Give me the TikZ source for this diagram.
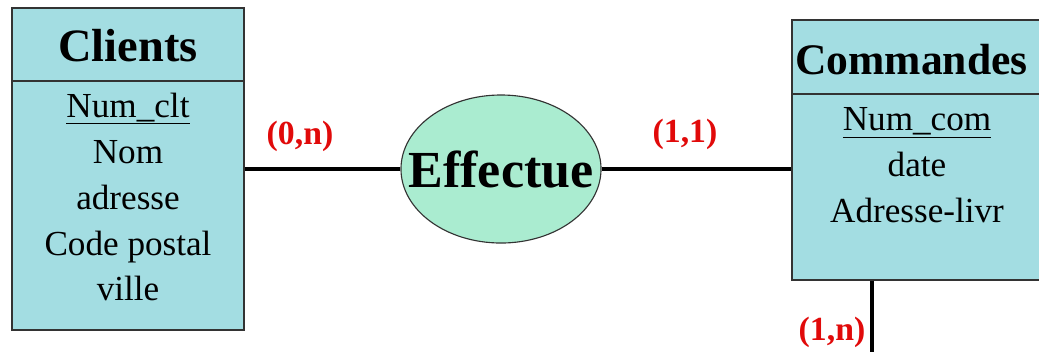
\documentclass[tikz,border=0pt]{standalone}
\usepackage{fontspec}
\setmainfont{Liberation Serif}
\usetikzlibrary{ shapes.geometric, % For the ellipse of the association
                 positioning,      % For easy node-relative placements
               }
\definecolor{entityfill}{RGB}{163,221,226}
\definecolor{assocfill}{RGB}{170,236,208}
\definecolor{cardred}{RGB}{225,10,10}
\tikzstyle{entity} = [rectangle, draw=black!80, line width=1pt, fill=entityfill]
\tikzstyle{entitytitle} = [font=\fontsize{33}{40}\selectfont\bfseries, inner sep=0pt]
\tikzstyle{attrs} = [align=center, font=\fontsize{25}{32.7}\selectfont, inner sep=0pt]
\tikzstyle{assoc} = [ellipse, draw=black!80, line width=0.8pt, fill=assocfill, font=\fontsize{37}{44}\selectfont\bfseries, inner xsep=-16pt, inner ysep=0pt]
\tikzstyle{card} = [text=cardred, font=\fontsize{24}{28}\selectfont\bfseries, inner sep=0pt]
\tikzstyle{link} = [line width=2.6pt, black]

\begin{document}
\begin{tikzpicture}[x=0.025cm, y=-0.025cm]
  \clip (0,0) rectangle (1039,351);
  \fill[white] (0,0) rectangle (1039,351);

  % entity Clients
  \node (clients) [entity, minimum width=5.8cm, minimum height=8.05cm] at (128,169) {};
  \draw[black!80, line width=1pt] (12,81) -- (244,81);
  \node (clientsT) [entitytitle] at (128,46) {Clients};
  \node (clientsA) [attrs] at (128,197) {\underline{Num\_clt}\\Nom\\adresse\\Code postal\\ville};

  % entity Commandes
  \node (cmd) [entity, minimum width=6.7cm, minimum height=6.5cm] at (926,150) {};
  \draw[black!80, line width=1pt] (792,94) -- (1060,94);
  \node (cmdT) [entitytitle, font=\fontsize{31}{38}\selectfont\bfseries, anchor=west] at (795,60) {Commandes};
  \node (cmdA) [attrs] at (917,165) {\underline{Num\_com}\\date\\Adresse-livr};

  % association
  \node (eff) [assoc, minimum width=5cm, minimum height=3.7cm] at (501,169) {Effectue};

  % links
  \draw [link] (clients.east) -- (eff.west);
  \draw [link] (eff.east) -- (eff.east -| cmd.west);
  \coordinate (down) at (872,360);
  \draw [link] (cmd.south -| down) -- (down);

  % cardinalities
  \node (c1) [card] at (300,136) {(0,n)};
  \node (c2) [card] at (685,134) {(1,1)};
  \node (c3) [card] at (832,332) {(1,n)};
\end{tikzpicture}
\end{document}
